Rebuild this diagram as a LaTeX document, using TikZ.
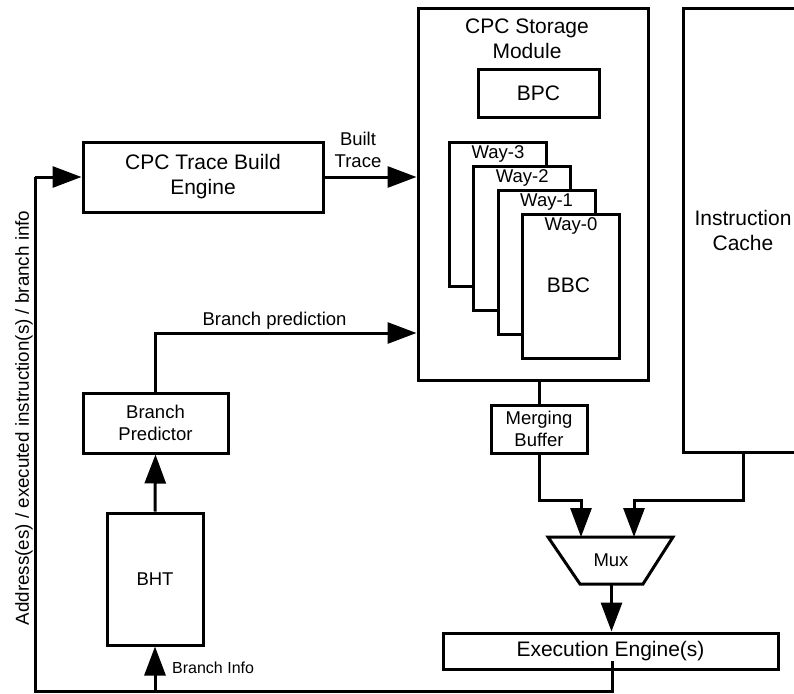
\documentclass[tikz,border=0pt]{standalone}
\usepackage{fontspec}
\setmainfont{Liberation Sans}
\usetikzlibrary{arrows.meta}
\tikzset{
  blk/.style={draw, line width=3pt, fill=white, inner sep=0pt, align=center,
              font=\fontsize{21}{25}\selectfont},
  smallblk/.style={blk, font=\fontsize{18.5}{22}\selectfont},
  wire/.style={line width=3pt},
  arr/.style={wire, -{Triangle[length=29pt,width=21pt]}},
  lbl/.style={inner sep=0pt, align=center, font=\fontsize{18.5}{22}\selectfont},
  waybox/.style={draw, line width=3pt, fill=white, minimum width=97pt, minimum height=144pt, anchor=north west},
}
\begin{document}
\begin{tikzpicture}[x=1pt,y=-1pt]
\useasboundingbox (0,0) rectangle (794,693);

% trace build engine
\node[blk, minimum width=240pt, minimum height=70pt] (eng) at (203,177) {CPC Trace Build\\Engine};

% storage module with its contents
\node[blk, minimum width=230pt, minimum height=371pt] (store) at (533,194.5) {};
\node[lbl, font=\fontsize{21}{25}\selectfont] (storelbl) at (527,39) {CPC Storage\\Module};
\node[blk, minimum width=121pt, minimum height=48pt] (bpc) at (538.5,93) {BPC};

% four stacked ways, back to front, each with its tag
\foreach \w/\x/\y in {3/448/141, 2/472.3/165, 1/496.6/189, 0/520.9/213}{
  \node[waybox] (way\w) at (\x,\y) {};
  \node[lbl, anchor=north] (waylbl\w) at ([yshift=-4.5pt]way\w.north) {Way-\w};
}
\node[lbl, font=\fontsize{21}{25}\selectfont] (bbc) at (568.5,285) {BBC};

% instruction cache (runs past the right edge)
\node[blk, minimum width=120pt, minimum height=443pt] (cache) at (743,230.5) {Instruction\\Cache};

% merging buffer and mux
\node[smallblk, minimum width=96pt, minimum height=48pt] (mb) at (539,429) {Merging\\Buffer};
\coordinate (muxtl) at (548,537);
\coordinate (muxtr) at (673,537);
\coordinate (muxbr) at (643,584);
\coordinate (muxbl) at (580,584);
\draw[wire, fill=white, line join=miter] (muxtl) -- (muxtr) -- (muxbr) -- (muxbl) -- cycle;
\node[lbl] (mux) at (611,560) {Mux};
\coordinate (muxin1) at (581,537);
\coordinate (muxin2) at (634,537);
\coordinate (muxout) at (611.5,584);

% execution engine
\node[blk, minimum width=335pt, minimum height=36pt] (ee) at (610.5,651) {Execution Engine(s)};

% branch prediction path
\node[smallblk, minimum width=145pt, minimum height=60pt] (bp) at (155.5,423) {Branch\\Predictor};
\node[smallblk, minimum width=96pt, minimum height=132pt] (bht) at (155,579) {BHT};

% feedback bus along the bottom and the left side
\coordinate (eetap) at (612,661);
\coordinate (busr) at (612,691);
\coordinate (busl) at (35,691);
\coordinate (bustop) at (35,177);
\coordinate (bhttap) at (155,691);
\draw[wire, line join=miter] (eetap) -- (busr) -- (busl) -- (bustop);
\draw[arr] (bustop) -- (eng.west);
\draw[arr] (bhttap) -- (bht.south);
\node[inner sep=0pt, rotate=90, font=\fontsize{18.8}{22}\selectfont] (buslbl) at (24,418)
  {Address(es) / executed instruction(s) / branch info};
\node[inner sep=0pt, anchor=west, font=\fontsize{16}{19}\selectfont] (bilbl) at (172,668) {Branch Info};

\draw[arr] (bht.north) -- (bp.south);
\draw[arr, line join=miter] (bp.north) |- (store.west |- 0,333);
\node[lbl] (bplbl) at (274.5,321) {Branch prediction};

\draw[arr] (eng.east) -- (store.west |- eng.east);
\node[lbl] (btlbl) at (358,150) {Built\\Trace};

% into and out of the merging buffer, cache to mux
\draw[wire] (store.south -| mb.north) -- (mb.north);
\draw[arr, line join=miter] (mb.south) -- (539,500) -| (muxin1);
\draw[arr, line join=miter] (cache.south -| 743,0) -- (743,500) -| (muxin2);
\draw[arr] (muxout) -- (ee.north -| muxout);
\end{tikzpicture}
\end{document}
